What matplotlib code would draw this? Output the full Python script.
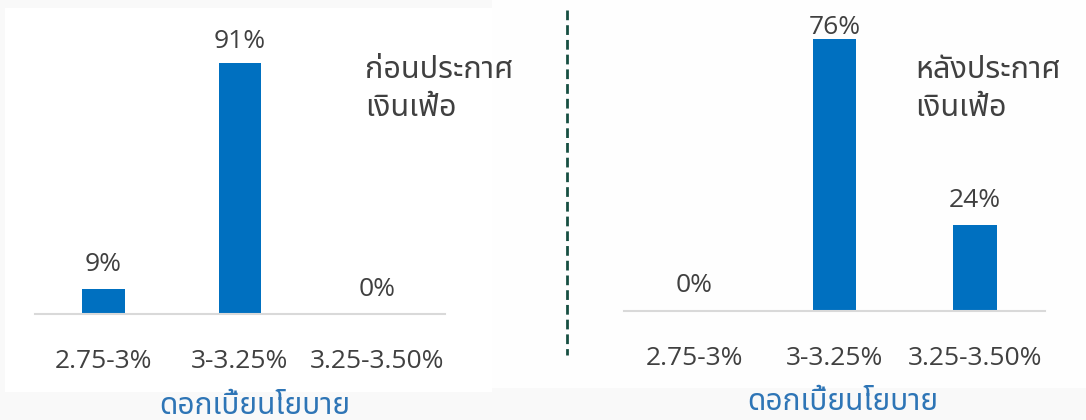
import glob
import matplotlib
matplotlib.use('Agg')
import matplotlib.pyplot as plt
from matplotlib import font_manager as fm
from matplotlib.patches import Rectangle
from matplotlib.lines import Line2D

# make sure the Thai fonts are registered
for p in (glob.glob('/usr/share/fonts/**/NotoSansThai[[]*.ttf', recursive=True)
          + glob.glob('/usr/share/fonts/**/IBMPlexSansThai-Regular.ttf', recursive=True)):
    fm.fontManager.addfont(p)

THAI = ['Noto Sans Thai', 'IBM Plex Sans Thai', 'DejaVu Sans']
LATIN = ['Open Sans', 'DejaVu Sans']

# Data
categories = ['2.75-3%', '3-3.25%', '3.25-3.50%']
before_pct = [9, 91, 0]
after_pct = [0, 76, 24]
before_title = 'ก่อนประกาศ\nเงินเฟ้อ'
after_title = 'หลังประกาศ\nเงินเฟ้อ'
x_title = 'ดอกเบี้ยนโยบาย'

BAR = '#0070C0'
TEXT = '#404040'
BLUE = '#2E75B6'
W, H = 1086, 420

fig = plt.figure(figsize=(W / 100, H / 100), dpi=100)
fig.patch.set_facecolor('#F9F9F9')

# white panel backgrounds (behind the axes)
fig.patches.append(Rectangle((5 / W, 1 - 392 / H), 487 / W, 384 / H,
                             transform=fig.transFigure, facecolor='white',
                             edgecolor='none', zorder=-10))
fig.patches.append(Rectangle((492 / W, 1 - 388 / H), 594 / W, 388 / H,
                             transform=fig.transFigure, facecolor='#FEFEFE',
                             edgecolor='none', zorder=-10))


def px_box(x0, x1, y_top, y_base):
    return [x0 / W, 1 - y_base / H, (x1 - x0) / W, (y_base - y_top) / H]


def panel(box, vals, ymax, cap, title, title_x, xlab_x):
    ax = fig.add_axes(box)
    ax.patch.set_visible(False)
    x = range(len(categories))
    ax.bar(x, vals, width=0.31, color=BAR, zorder=2)
    ax.set_xlim(-0.5, len(categories) - 0.5)
    ax.set_ylim(0, ymax)
    for s in ['top', 'right', 'left']:
        ax.spines[s].set_visible(False)
    ax.spines['bottom'].set_color('#D9D9D9')
    ax.spines['bottom'].set_linewidth(1.5)
    ax.set_yticks([])
    ax.set_xticks(list(x))
    ax.set_xticklabels(categories, fontsize=19, color=TEXT, family=LATIN)
    ax.tick_params(axis='x', length=0, pad=25)

    # value labels: 25 px above the bar, pushed down at the top of the plot
    per_px = ymax / (box[3] * H)
    for xi, v in zip(x, vals):
        y = min(v + 25 * per_px, cap)
        ax.text(xi, y, f'{v}%', ha='center', va='center', fontsize=19,
                color=TEXT, family=LATIN)

    ax.set_xlabel(x_title, fontsize=21.5, color=BLUE, family=THAI)
    ax.xaxis.set_label_coords(xlab_x, -0.305)
    ax.xaxis.label.set_va('center')

    fig.text(title_x / W, 1 - 89 / H, title, ha='left', va='center',
             fontsize=22, color=TEXT, family=THAI, linespacing=1.36)
    return ax


panel(px_box(35, 445, 10, 314), before_pct, 110, 98.5, before_title, 365, 0.537)
panel(px_box(624, 1045, 10, 311), after_pct, 84, 79, after_title, 915, 0.52)

# dashed separator
fig.lines.append(Line2D([567 / W, 567 / W], [1 - 10 / H, 1 - 355 / H],
                        transform=fig.transFigure, color='#174F42',
                        linewidth=2, linestyle=(0, (3.5, 1.8))))

fig.savefig('out.png', dpi=100, facecolor=fig.get_facecolor())
